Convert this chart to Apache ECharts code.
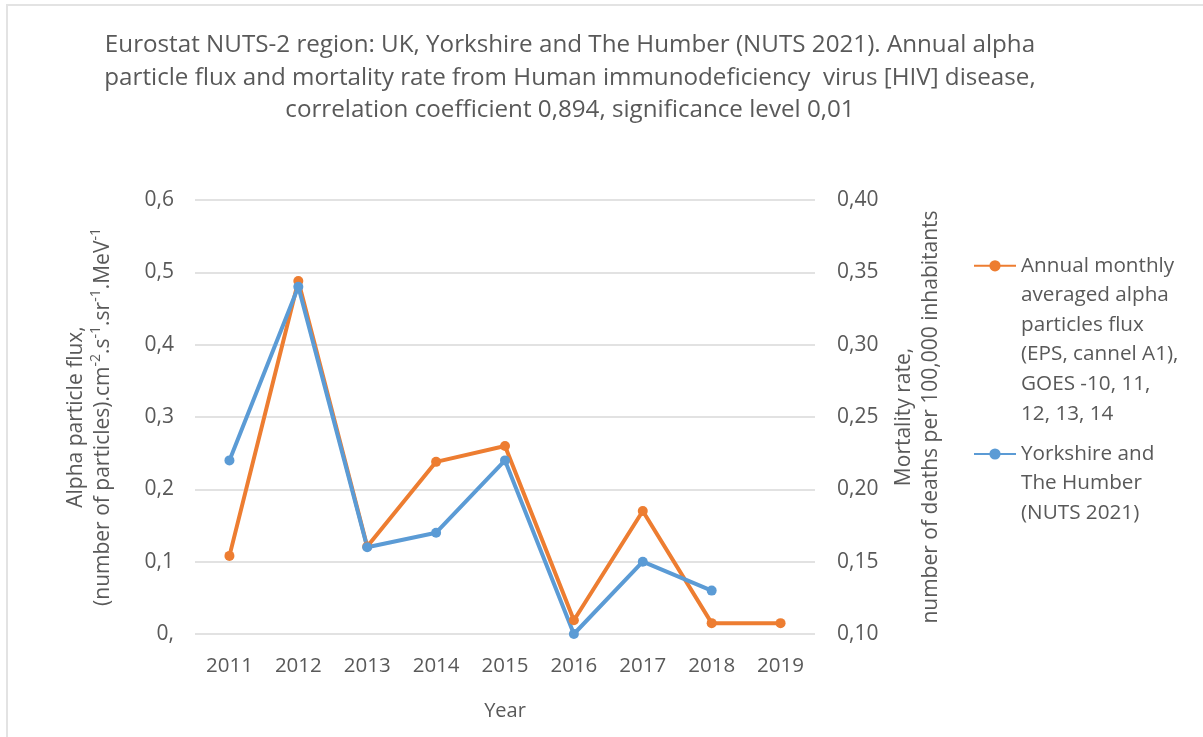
<!DOCTYPE html>
<html>
<head>
<meta charset="utf-8">
<script src="https://cdn.jsdelivr.net/npm/echarts@6/dist/echarts.min.js"></script>
<style>
html,body{margin:0;padding:0;background:#fff;}
#frame{position:absolute;left:6px;top:4px;width:1197px;height:733px;border-left:2px solid #e3e3e3;border-top:2px solid #e3e3e3;box-sizing:border-box;}
#chart{position:absolute;left:0;top:0;width:1203px;height:737px;}
</style>
</head>
<body>
<div id="frame"></div>
<div id="chart"></div>
<script>
const years = ['2011','2012','2013','2014','2015','2016','2017','2018','2019'];
const alphaFlux = [0.108, 0.488, 0.121, 0.238, 0.260, 0.019, 0.170, 0.015, 0.015];
const mortality = [0.220, 0.340, 0.160, 0.170, 0.220, 0.100, 0.150, 0.130, null];
const leftTicks = ['0,', '0,1', '0,2', '0,3', '0,4', '0,5', '0,6'];
const rightTicks = ['0,10', '0,15', '0,20', '0,25', '0,30', '0,35', '0,40'];
const seriesNames = [
  'Annual monthly\naveraged alpha\nparticles flux\n(EPS, cannel A1),\nGOES -10, 11,\n12, 13, 14',
  'Yorkshire and\nThe Humber\n(NUTS 2021)'
];
const titleText = 'Eurostat NUTS-2 region: UK, Yorkshire and The Humber (NUTS 2021). Annual alpha\nparticle flux and mortality rate from Human immunodeficiency  virus [HIV] disease,\ncorrelation coefficient 0,894, significance level 0,01';
const leftName = 'Alpha particle flux,\n(number of particles).cm{sup|-2}.s{sup|-1}.sr{sup|-1}.MeV{sup|-1}';
const rightName = 'Mortality rate,\nnumber of deaths per 100,000 inhabitants';

const FONT = 'Open Sans';
const TXT = '#595959';
const ORANGE = '#ED7D31';
const BLUE = '#5B9BD5';
const LH = 29.6;

function lines(s) { return s.split('\n').length; }

const chart = echarts.init(document.getElementById('chart'), null, {renderer: 'canvas'});
chart.setOption({
  backgroundColor: 'transparent',
  animation: false,
  textStyle: {fontFamily: FONT},
  title: {
    text: titleText,
    left: 570,
    top: 29,
    padding: 0,
    textAlign: 'center',
    textStyle: {fontFamily: FONT, fontSize: 24.2, fontWeight: 'normal', color: TXT, lineHeight: 32.5}
  },
  legend: [
    {
      data: [seriesNames[0]],
      orient: 'vertical',
      left: 968,
      top: 98,
      itemWidth: 42,
      itemHeight: 14,
      formatter: (n) => '\n'.repeat(lines(n) - 1) + n,
      textStyle: {fontFamily: FONT, fontSize: 20.7, color: TXT, lineHeight: LH}
    },
    {
      data: [seriesNames[1]],
      orient: 'vertical',
      left: 968,
      top: 375,
      itemWidth: 42,
      itemHeight: 14,
      formatter: (n) => '\n'.repeat(lines(n) - 1) + n,
      textStyle: {fontFamily: FONT, fontSize: 20.7, color: TXT, lineHeight: LH}
    }
  ],
  grid: {left: 195, right: 388, top: 200, bottom: 103, containLabel: false},
  xAxis: {
    type: 'category',
    data: years,
    boundaryGap: true,
    axisLine: {show: false},
    axisTick: {show: false},
    axisLabel: {color: TXT, fontSize: 20.5, margin: 22, fontFamily: FONT},
    name: 'Year',
    nameLocation: 'middle',
    nameGap: 67,
    nameTextStyle: {color: TXT, fontSize: 20, fontFamily: FONT, verticalAlign: 'top'}
  },
  yAxis: [
    {
      type: 'value',
      min: 0, max: 0.6, interval: 0.1,
      position: 'left',
      axisLine: {show: false},
      axisTick: {show: false},
      splitLine: {lineStyle: {color: '#d9d9d9', width: 1.5}},
      axisLabel: {
        color: TXT, fontSize: 21, margin: 21, fontFamily: FONT,
        formatter: (v) => leftTicks[Math.round(v * 10)]
      },
      name: leftName,
      nameLocation: 'middle',
      nameRotate: 90,
      nameGap: 78,
      nameTextStyle: {
        color: TXT, fontSize: 21, fontFamily: FONT, lineHeight: 27.5,
        rich: {sup: {fontSize: 14, fontFamily: FONT, color: TXT, verticalAlign: 'top', lineHeight: 17}}
      }
    },
    {
      type: 'value',
      min: 0.1, max: 0.4, interval: 0.05,
      position: 'right',
      axisLine: {show: false},
      axisTick: {show: false},
      splitLine: {show: false},
      axisLabel: {
        color: TXT, fontSize: 21, margin: 22, fontFamily: FONT,
        formatter: (v) => rightTicks[Math.round((v - 0.1) / 0.05)]
      },
      name: rightName,
      nameLocation: 'middle',
      nameRotate: 90,
      nameGap: 75,
      nameTextStyle: {color: TXT, fontSize: 21, fontFamily: FONT, lineHeight: 27.5}
    }
  ],
  series: [
    {
      name: seriesNames[0],
      type: 'line',
      yAxisIndex: 0,
      data: alphaFlux,
      symbol: 'circle',
      symbolSize: 10,
      lineStyle: {color: ORANGE, width: 4},
      itemStyle: {color: ORANGE}
    },
    {
      name: seriesNames[1],
      type: 'line',
      yAxisIndex: 1,
      data: mortality,
      symbol: 'circle',
      symbolSize: 10,
      lineStyle: {color: BLUE, width: 4},
      itemStyle: {color: BLUE},
      z: 3
    }
  ]
});
</script>
</body>
</html>
